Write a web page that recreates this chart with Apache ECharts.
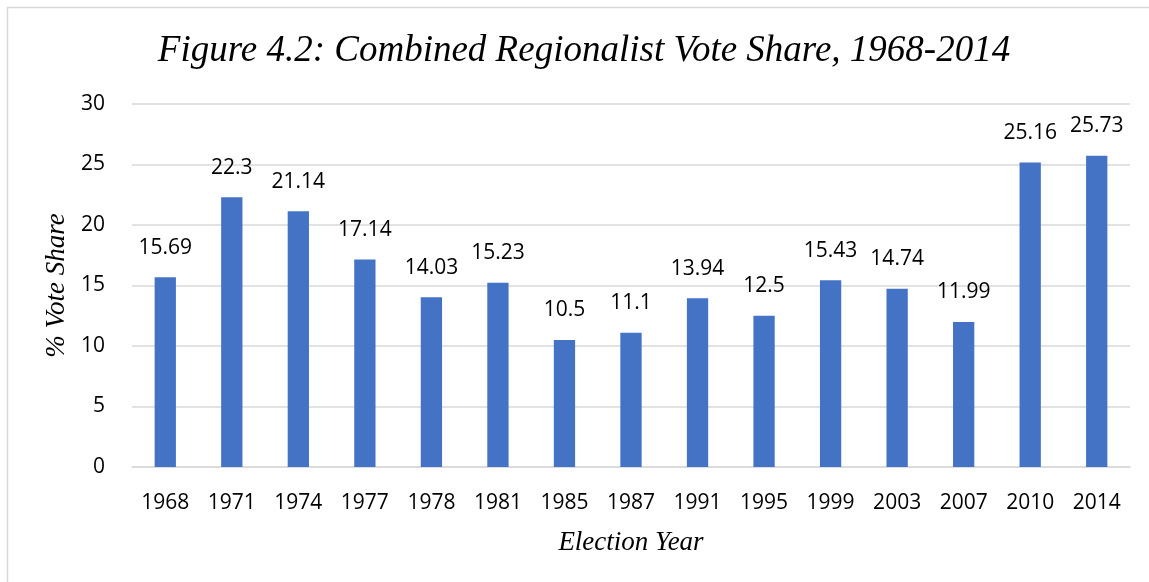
<!DOCTYPE html>
<html><head><meta charset="utf-8">
<script src="https://cdn.jsdelivr.net/npm/echarts@6/dist/echarts.min.js"></script>
<style>html,body{margin:0;padding:0;background:#fff}#c{width:1149px;height:582px}</style>
</head><body><div id="c"></div>
<script>
const categories = ['1968','1971','1974','1977','1978','1981','1985','1987','1991','1995','1999','2003','2007','2010','2014'];
const voteShare = [15.69,22.3,21.14,17.14,14.03,15.23,10.5,11.1,13.94,12.5,15.43,14.74,11.99,25.16,25.73];
const titleText = 'Figure 4.2: Combined Regionalist Vote Share, 1968-2014';
const xName = 'Election Year';
const yName = '% Vote Share';

const chart = echarts.init(document.getElementById('c'), null, {renderer:'canvas'});
const sans = '"Open Sans", "Noto Sans", sans-serif';
const serif = '"Liberation Serif", "DejaVu Serif", serif';
chart.setOption({
  animation:false,
  backgroundColor:'#fff',
  graphic:[{type:'rect',shape:{x:7.5,y:7.5,width:1160,height:600},style:{fill:'none',stroke:'#d9d9d9',lineWidth:1.5},silent:true}],
  title:{text:titleText,left:579,top:28,textAlign:'center',textStyle:{fontFamily:serif,fontStyle:'italic',fontWeight:'normal',fontSize:37,color:'#000'}},
  grid:{left:132,right:19,top:104,bottom:115,containLabel:false},
  xAxis:{type:'category',data:categories,name:xName,nameLocation:'middle',nameGap:62,
    nameTextStyle:{fontFamily:serif,fontStyle:'italic',fontSize:27,color:'#000'},
    axisLine:{lineStyle:{color:'#d9d9d9',width:1.5}},axisTick:{show:false},
    axisLabel:{fontFamily:sans,fontSize:21,color:'#000',margin:26}},
  yAxis:{type:'value',min:0,max:30,interval:5,name:yName,nameLocation:'middle',nameGap:58,
    nameTextStyle:{fontFamily:serif,fontStyle:'italic',fontSize:27,color:'#000'},
    axisLine:{show:false},axisTick:{show:false},
    splitLine:{lineStyle:{color:'#d9d9d9',width:1.5}},
    axisLabel:{fontFamily:sans,fontSize:21,color:'#000',margin:27}},
  series:[{type:'bar',data:voteShare,barWidth:'32%',itemStyle:{color:'#4472C4'},
    label:{show:true,position:'top',distance:19,fontFamily:sans,fontSize:21,color:'#000'}}]
});
</script></body></html>
